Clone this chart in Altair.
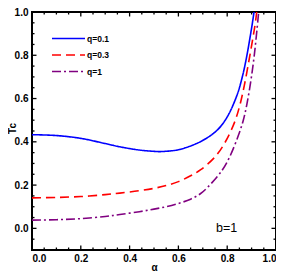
import altair as alt
import pandas as pd

# ---- data ----
q_labels = ["q=0.1", "q=0.3", "q=1"]
colors = ["#0000ff", "#ff0000", "#800080"]
dashes = [[1, 0], [9, 5], [9, 3, 2, 3]]

alpha_q01 = [0, 0.1, 0.2, 0.3, 0.36, 0.44, 0.5, 0.53, 0.6, 0.63, 0.67, 0.71, 0.76, 0.8, 0.84, 0.863, 0.88, 0.9, 0.91, 0.92]
tc_q01 = [0.433, 0.429, 0.416, 0.392, 0.377, 0.362, 0.356, 0.355, 0.363, 0.373, 0.39, 0.413, 0.455, 0.515, 0.615, 0.705, 0.795, 0.926, 1.0, 1.08]

alpha_q03 = [0, 0.1, 0.2, 0.3, 0.36, 0.44, 0.5, 0.55, 0.6, 0.65, 0.69, 0.75, 0.79, 0.83, 0.852, 0.87, 0.893, 0.914, 0.921, 0.93]
tc_q03 = [0.141, 0.143, 0.147, 0.156, 0.163, 0.174, 0.185, 0.198, 0.216, 0.243, 0.27, 0.33, 0.395, 0.49, 0.57, 0.66, 0.8, 0.94, 1.0, 1.08]

alpha_q1 = [0, 0.1, 0.2, 0.3, 0.36, 0.44, 0.5, 0.55, 0.6, 0.65, 0.69, 0.72, 0.78, 0.81, 0.846, 0.866, 0.88, 0.898, 0.912, 0.923, 0.929, 0.935]
tc_q1 = [0.038, 0.04, 0.045, 0.055, 0.064, 0.077, 0.089, 0.1, 0.115, 0.135, 0.16, 0.19, 0.27, 0.33, 0.43, 0.5, 0.57, 0.69, 0.81, 0.93, 1.0, 1.07]

x_ticks = [0.0, 0.2, 0.4, 0.6, 0.8, 1.0]
y_ticks = [0.0, 0.2, 0.4, 0.6, 0.8, 1.0]
x_domain = [0.0, 1.0]
y_domain = [-0.1, 1.0]
annotation = "b=1"
annotation_pos = (0.798, 0.0)

# ---- build tables ----
rows = []
for lab, xs, ys in zip(q_labels, [alpha_q01, alpha_q03, alpha_q1], [tc_q01, tc_q03, tc_q1]):
    for a, v in zip(xs, ys):
        rows.append({"a": a, "v": v, "q": lab})
curves = pd.DataFrame(rows)

W, H = 244, 238
px_x = (x_domain[1] - x_domain[0]) / W
px_y = (y_domain[1] - y_domain[0]) / H
major_len, minor_len = 4.5, 2.5

minor_steps = [round(i * 0.05, 2) for i in range(-2, 21)]
tick_rows = []
for t in minor_steps:
    if 0.0 <= t <= 1.0:
        L = major_len if t in x_ticks else minor_len
        tick_rows.append({"a": t, "v": y_domain[0], "a2": t, "v2": y_domain[0] + L * px_y})
        tick_rows.append({"a": t, "v": y_domain[1], "a2": t, "v2": y_domain[1] - L * px_y})
    if y_domain[0] <= t <= y_domain[1]:
        L = major_len if t in y_ticks else minor_len
        tick_rows.append({"a": x_domain[0], "v": t, "a2": x_domain[0] + L * px_x, "v2": t})
        tick_rows.append({"a": x_domain[1], "v": t, "a2": x_domain[1] - L * px_x, "v2": t})
ticks = pd.DataFrame(tick_rows)

FONT = "Liberation Sans"
xscale = alt.Scale(domain=x_domain, nice=False, zero=False)
yscale = alt.Scale(domain=y_domain, nice=False, zero=False)
xaxis = alt.Axis(values=x_ticks, format=".1f", title="α", ticks=False, domain=False,
                 grid=False, labelPadding=3, titleFontWeight="bold", titleFontSize=10,
                 titleFont=FONT, titleY=20, titleBaseline="alphabetic")
yaxis = alt.Axis(values=y_ticks, format=".1f", title="Tc", ticks=False, domain=False,
                 grid=False, labelPadding=4, titleFontWeight="bold", titleFontSize=10,
                 titleFont=FONT, titleX=-17, titleY=116, titleBaseline="alphabetic",
                 titleAngle=270, titleAlign="center")

legend = alt.Legend(title=None, orient="none", legendX=30, legendY=20, padding=0,
                    symbolType="M-3,0H3", symbolSize=121, symbolStrokeWidth=1.6,
                    labelFont=FONT, labelFontWeight="bold", labelFontSize=8.5,
                    labelOffset=12, rowPadding=5.5, labelColor="black")

lines = alt.Chart(curves).mark_line(clip=True, strokeWidth=1.6, interpolate="catmull-rom").encode(
    x=alt.X("a:Q", scale=xscale, axis=xaxis),
    y=alt.Y("v:Q", scale=yscale, axis=yaxis),
    color=alt.Color("q:N", scale=alt.Scale(domain=q_labels, range=colors), legend=legend),
    strokeDash=alt.StrokeDash("q:N", scale=alt.Scale(domain=q_labels, range=dashes), legend=legend),
)

tick_layer = alt.Chart(ticks).mark_rule(color="black", strokeWidth=1.3).encode(
    x=alt.X("a:Q", scale=xscale, axis=xaxis),
    x2="a2:Q",
    y=alt.Y("v:Q", scale=yscale, axis=yaxis),
    y2="v2:Q",
)

label = alt.Chart(pd.DataFrame({"t": [annotation]})).mark_text(
    font=FONT, fontSize=12.5, color="black", align="center", baseline="middle"
).encode(
    x=alt.datum(annotation_pos[0], scale=xscale),
    y=alt.datum(annotation_pos[1], scale=yscale),
    text="t:N",
)

chart = alt.layer(lines, tick_layer, label).properties(
    width=W, height=H,
    autosize=alt.AutoSizeParams(type="none"),
    padding={"left": 24, "top": 4, "right": 0, "bottom": 22},
).configure_view(
    stroke="black", strokeWidth=2
).configure_axis(
    labelFont=FONT, labelFontWeight="bold", labelFontSize=10, labelColor="black",
    titleColor="black"
)

chart.save("out.html", embed_options={"renderer": "svg", "actions": False})
